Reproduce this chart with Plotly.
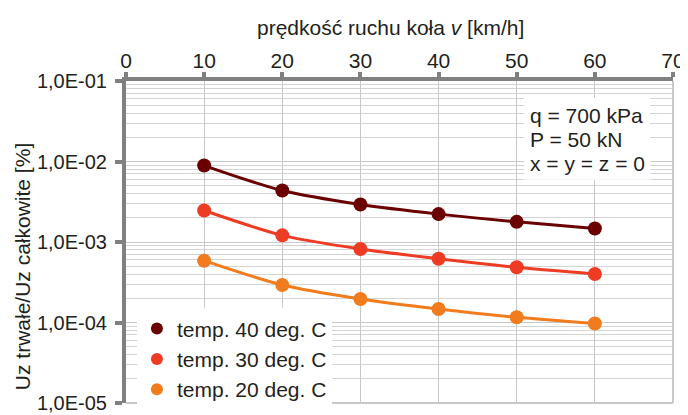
import plotly.graph_objects as go

speeds = [10, 20, 30, 40, 50, 60]
t40 = [8.9e-3, 4.36e-3, 2.92e-3, 2.22e-3, 1.78e-3, 1.47e-3]
t30 = [2.46e-3, 1.21e-3, 8.2e-4, 6.2e-4, 4.85e-4, 4.0e-4]
t20 = [5.86e-4, 2.92e-4, 1.96e-4, 1.47e-4, 1.16e-4, 9.7e-5]
series_names = ["temp. 40 deg. C", "temp. 30 deg. C", "temp. 20 deg. C"]
colors = ["#6a0000", "#ee3b24", "#f07c1e"]
ytick_vals = [1e-5, 1e-4, 1e-3, 1e-2, 1e-1]
ytick_text = ["1,0E-05", "1,0E-04", "1,0E-03", "1,0E-02", "1,0E-01"]
xtick_vals = [0, 10, 20, 30, 40, 50, 60, 70]
note_lines = ["q = 700 kPa", "P = 50 kN", "x = y = z = 0"]
x_title = "prędkość ruchu koła <i>v</i> [km/h]"
y_title = "Uz trwałe/Uz całkowite [%]"

FONT = "Liberation Sans, Arial, sans-serif"
TXT = "#231f20"
fig = go.Figure()
for name, vals, col in zip(series_names, [t40, t30, t20], colors):
    fig.add_trace(go.Scatter(
        x=speeds, y=vals, mode="lines+markers", name=name, showlegend=False,
        line=dict(color=col, width=3, shape="spline", smoothing=0.8),
        marker=dict(color=col, size=14),
    ))
for name, col in zip(series_names, colors):
    fig.add_trace(go.Scatter(
        x=[None], y=[None], mode="markers", name=name,
        marker=dict(color=col, size=12),
    ))

minor_vals = [m * 10 ** e for e in range(-5, -1) for m in range(2, 10)]

# the page body has an 8px default margin, so the figure is sized 680x407
fig.update_layout(
    width=680, height=407,
    margin=dict(l=118, r=15, t=73, b=12, autoexpand=False),
    paper_bgcolor="white", plot_bgcolor="white",
    font=dict(family=FONT, size=21, color=TXT),
    xaxis=dict(
        side="top", range=[0, 70], tickmode="array", tickvals=xtick_vals,
        showline=True, linecolor="#808080", linewidth=4,
        ticks="outside", ticklen=5, tickwidth=4, tickcolor="#808080",
        ticklabelstandoff=-4,
        showgrid=True, gridcolor="#c8c8c8", gridwidth=1,
        zeroline=False, automargin=False,
        tickfont=dict(size=21),
    ),
    yaxis=dict(
        type="log", range=[-5, -1], tickmode="array",
        tickvals=ytick_vals, ticktext=ytick_text,
        showline=True, linecolor="#808080", linewidth=4,
        ticks="outside", ticklen=7, tickwidth=4, tickcolor="#808080",
        ticklabelstandoff=4,
        showgrid=True, gridcolor="#c8c8c8", gridwidth=1,
        minor=dict(tickmode="array", tickvals=minor_vals, showgrid=True,
                   gridcolor="#d4d4d4", gridwidth=1, ticks=""),
        zeroline=False, automargin=False,
        tickfont=dict(size=20),
    ),
    legend=dict(
        x=0.02, y=-0.02, xanchor="left", yanchor="bottom",
        bgcolor="white", font=dict(size=21),
        itemsizing="constant", itemwidth=30,
    ),
    showlegend=True,
)

# right and bottom frame lines
fig.add_shape(type="line", xref="paper", yref="paper", x0=1, x1=1, y0=0, y1=1,
              line=dict(color="#c8c8c8", width=2))
fig.add_shape(type="line", xref="paper", yref="paper", x0=0, x1=1, y0=0, y1=0,
              line=dict(color="#c8c8c8", width=2))

# axis titles
fig.add_annotation(x=0.483, y=1.165, xref="paper", yref="paper",
                   text=x_title, showarrow=False, font=dict(size=21),
                   xanchor="center", yanchor="middle")
fig.add_annotation(x=-0.19, y=0.422, xref="paper", yref="paper",
                   text=y_title, showarrow=False, font=dict(size=21),
                   textangle=-90, xanchor="center", yanchor="middle")

# note box
fig.add_shape(type="rect", xref="paper", yref="paper",
              x0=0.728, x1=0.958, y0=0.693, y1=0.947,
              fillcolor="white", line=dict(width=0), layer="above")
for line, yy in zip(note_lines, [0.894, 0.817, 0.745]):
    fig.add_annotation(x=51.4, y=yy, xref="x", yref="paper",
                       xanchor="left", yanchor="middle", text=line,
                       showarrow=False, font=dict(size=21))

fig.write_html("out.html")
